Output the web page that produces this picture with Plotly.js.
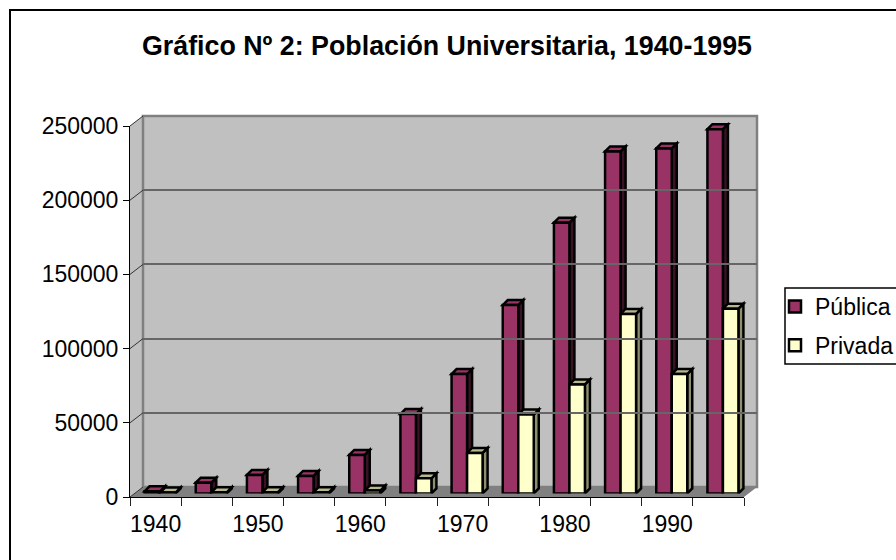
<!DOCTYPE html>
<html><head><meta charset="utf-8">
<script src="https://cdn.plot.ly/plotly-3.0.1.min.js"></script>
<style>html,body{margin:0;padding:0;background:#fff}#c{width:896px;height:560px}</style></head>
<body><div id="c"></div>
<script>
const categories=['1940','1945','1950','1955','1960','1965','1970','1975','1980','1985','1990','1995'];
const publica=[1500,7300,12500,11800,26000,53500,80500,127000,182500,230500,232500,245500];
const privada=[600,800,900,900,2000,10200,27300,53200,73500,121000,80500,124500];
const yTicks=[0,50000,100000,150000,200000,250000];
const W=896,H=560;
const L=130,R=744,T=126,B=497;
const dx=13,dy=10,bx=4.5,by=3.5,bw=15.5,d=5;
const yMax=250000,upp=yMax/(B-T);
const px=(a,b)=>[a/W,b/W], py=(t,b)=>[1-b/H,1-t/H];
const fx=v=>v/W, fy=v=>1-v/H;
const font={family:'"Liberation Sans",Arial,sans-serif',color:'#000',size:23};
const xRange=[-0.5,11.5];
function box(cat,val,side,top,right){
  const l=right-bw,r=right,u=d*upp;
  const common={type:'path',xref:'x2',yref:'y2',xsizemode:'pixel',xanchor:cat,layer:'below',line:{color:'#000',width:2.5}};
  return [
   {...common,fillcolor:side,path:`M${r},${val} L${r+d},${val+u} L${r+d},${u} L${r},0 Z`},
   {...common,fillcolor:top,path:`M${l},${val} L${l+d},${val+u} L${r+d},${val+u} L${r},${val} Z`},
  ];
}
const poly=(pts)=>'M'+pts.map(p=>fx(p[0])+','+fy(p[1])).join(' L')+' Z';
const shapes=[
 {type:'path',xref:'paper',yref:'paper',layer:'below',fillcolor:'#c0c0c0',line:{width:0},path:poly([[L,T],[L+dx,T-dy],[L+dx,B-dy],[L,B]])},
 {type:'path',xref:'paper',yref:'paper',layer:'below',fillcolor:'#c0c0c0',line:{color:'#808080',width:2.5},path:poly([[L+dx,T-dy],[R+dx,T-dy],[R+dx,B-dy],[L+dx,B-dy]])},
 {type:'path',xref:'paper',yref:'paper',layer:'below',fillcolor:'#808080',line:{width:0},path:poly([[L,B],[L+dx,B-dy],[R+dx,B-dy],[R,B]])},
 {type:'rect',xref:'paper',yref:'paper',layer:'below',x0:fx(10),x1:1.02,y0:-0.02,y1:fy(10),line:{color:'#000',width:2},fillcolor:'rgba(0,0,0,0)'},
 {type:'rect',xref:'paper',yref:'paper',layer:'below',x0:fx(785),x1:1.02,y0:fy(364),y1:fy(288),line:{color:'#000',width:1.5},fillcolor:'#fff'},
];
yTicks.forEach(v=>{
  const f=v/yMax, yF=B-f*(B-T);
  shapes.push({type:'line',xref:'paper',yref:'paper',layer:'below',x0:fx(L),x1:fx(L+dx),y0:fy(yF),y1:fy(yF-dy),line:{color:'#333',width:1}});
});
categories.forEach((c,i)=>shapes.push(...box(i,publica[i],'#3a1226','#993366',0)));
categories.forEach((c,i)=>shapes.push(...box(i,privada[i],'#8f8f70','#b8b88f',bw)));
const layout={
 width:W,height:H,margin:{l:0,r:0,t:0,b:0,autoexpand:false},paper_bgcolor:'#fff',plot_bgcolor:'rgba(0,0,0,0)',font,
 title:{text:'<b>Gráfico Nº 2: Población Universitaria, 1940-1995</b>',font:{...font,size:26.8},x:447/W,xanchor:'center',y:fy(46),yanchor:'middle'},
 barmode:'group',bargap:1-2*bw/((R-L)/12),bargroupgap:0,
 showlegend:true,
 legend:{x:fx(775),xanchor:'left',y:fy(326),yanchor:'middle',bgcolor:'rgba(0,0,0,0)',borderwidth:0,font:{...font,size:23},itemwidth:30,entrywidth:72,entrywidthmode:'pixels',tracegroupgap:6},
 shapes,
 xaxis:{domain:px(L,R),type:'category',range:xRange,categoryorder:'array',categoryarray:categories,tickson:'boundaries',ticklabelstep:2,tickangle:0,ticks:'outside',ticklen:8,tickcolor:'#222',ticklabelstandoff:6,showline:true,linecolor:'#000',linewidth:1,showgrid:false,zeroline:false,anchor:'y',tickfont:font,fixedrange:true},
 yaxis:{domain:py(T,B),range:[0,yMax],tickvals:yTicks,ticktext:yTicks.map(String),ticks:'outside',ticklen:6,tickcolor:'#000',showline:true,linecolor:'#000',linewidth:1,showgrid:false,zeroline:false,anchor:'x',tickfont:font,fixedrange:true},
 xaxis2:{domain:px(L+bx,R+bx),type:'category',range:xRange,categoryorder:'array',categoryarray:categories,visible:false,anchor:'y2',fixedrange:true},
 yaxis2:{domain:py(T-by,B-by),range:[0,yMax],visible:false,anchor:'x2',fixedrange:true},
 xaxis3:{domain:px(L+dx,R+dx),type:'category',range:xRange,categoryorder:'array',categoryarray:categories,visible:false,anchor:'y3',fixedrange:true},
 yaxis3:{domain:py(T-dy,B-dy),range:[0,yMax],tickvals:yTicks.slice(1,5),showgrid:true,gridcolor:'#666666',gridwidth:2,showticklabels:false,ticks:'',showline:false,zeroline:false,anchor:'x3',fixedrange:true},
};
const mk=(n,y,col)=>({type:'bar',name:n,legendgroup:n,x:categories,y,xaxis:'x2',yaxis:'y2',marker:{color:col,line:{color:'#000',width:2.5}}});
const data=[
 {type:'scatter',mode:'none',x:categories,y:publica,xaxis:'x3',yaxis:'y3',showlegend:false,hoverinfo:'skip'},
 {type:'scatter',mode:'none',x:categories,y:publica,xaxis:'x',yaxis:'y',showlegend:false,hoverinfo:'skip'},
 mk('Pública',publica,'#993366'),
 mk('Privada',privada,'#FFFFCC'),
];
Plotly.newPlot('c',data,layout,{displayModeBar:false,staticPlot:true});
</script></body></html>
